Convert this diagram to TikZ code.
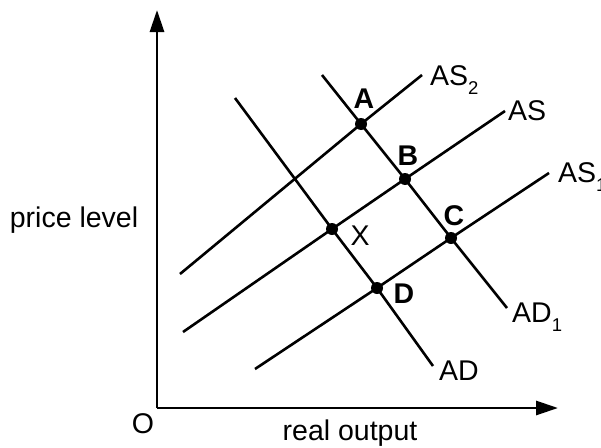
\documentclass[tikz,border=0pt]{standalone}
\usepackage{fontspec}
\setmainfont{Liberation Sans}
\usetikzlibrary{arrows.meta}
\newcommand\mysub[1]{\raisebox{-9pt}{\fontsize{18.5}{18.5}\selectfont #1}}
\begin{document}
\begin{tikzpicture}[x=1pt,y=-1pt,
  curve/.style={line width=2.6pt,line cap=butt},
  axis/.style={line width=2.9pt,-{Triangle[length=22pt,width=14pt]}},
  dot/.style={circle,fill=black,inner sep=0pt,minimum size=12pt},
  lab/.style={font=\fontsize{28.5}{32}\selectfont,inner sep=0pt,anchor=base west},
  ptlab/.style={font=\fontsize{28.5}{32}\selectfont\bfseries,inner sep=0pt,anchor=base},
  axlab/.style={font=\fontsize{28.5}{32}\selectfont,inner sep=0pt,anchor=base}]
\useasboundingbox (0,0) rectangle (601,447);
% axes
\coordinate (O) at (157,408);
\coordinate (ytip) at (157,10);
\coordinate (xtip) at (558,408);
\draw[axis] (O) -- (ytip);
\draw[axis] (O) -- (xtip);
% points
\coordinate (A) at (361,124);
\coordinate (B) at (405,179);
\coordinate (C) at (451,238);
\coordinate (X) at (332,229);
\coordinate (D) at (377,288);
% line ends
\coordinate (as2L) at (180,274);
\coordinate (as2R) at (422,75);
\coordinate (asL) at (183,332);
\coordinate (asR) at (505,111);
\coordinate (as1L) at (255,369);
\coordinate (as1R) at (549,173);
\coordinate (adT) at (235,98);
\coordinate (adB) at (433,366);
\coordinate (ad1T) at (322,75);
\coordinate (ad1B) at (507,308);
% curves
\draw[curve] (as2L) -- (A) -- (as2R);
\draw[curve] (asL) -- (X) -- (B) -- (asR);
\draw[curve] (as1L) -- (D) -- (C) -- (as1R);
\draw[curve] (adT) -- (X) -- (D) -- (adB);
\draw[curve] (ad1T) -- (A) -- (B) -- (C) -- (ad1B);
% dots
\node[dot] (dA) at (A) {};
\node[dot] (dB) at (B) {};
\node[dot] (dC) at (C) {};
\node[dot] (dX) at (X) {};
\node[dot] (dD) at (D) {};
% point labels
\node[ptlab] (lA) at (364,108) {A};
\node[ptlab] (lB) at (408,165) {B};
\node[ptlab] (lC) at (454,225) {C};
\node[ptlab] (lD) at (404,303) {D};
\node[axlab] (lX) at (360,245) {X};
% curve labels
\node[lab] (tAS2) at (430,85) {AS\mysub{2}};
\node[lab] (tAS) at (508,120) {AS};
\node[lab] (tAS1) at (558,182) {AS\mysub{1}};
\node[lab] (tAD1) at (512,322) {AD\mysub{1}};
\node[lab] (tAD) at (439,380) {AD};
% axis labels
\node[axlab] (lO) at (143,433) {O};
\node[axlab] (lx) at (350,440) {real output};
\node[axlab] (ly) at (74,227) {price level};
\end{tikzpicture}
\end{document}
